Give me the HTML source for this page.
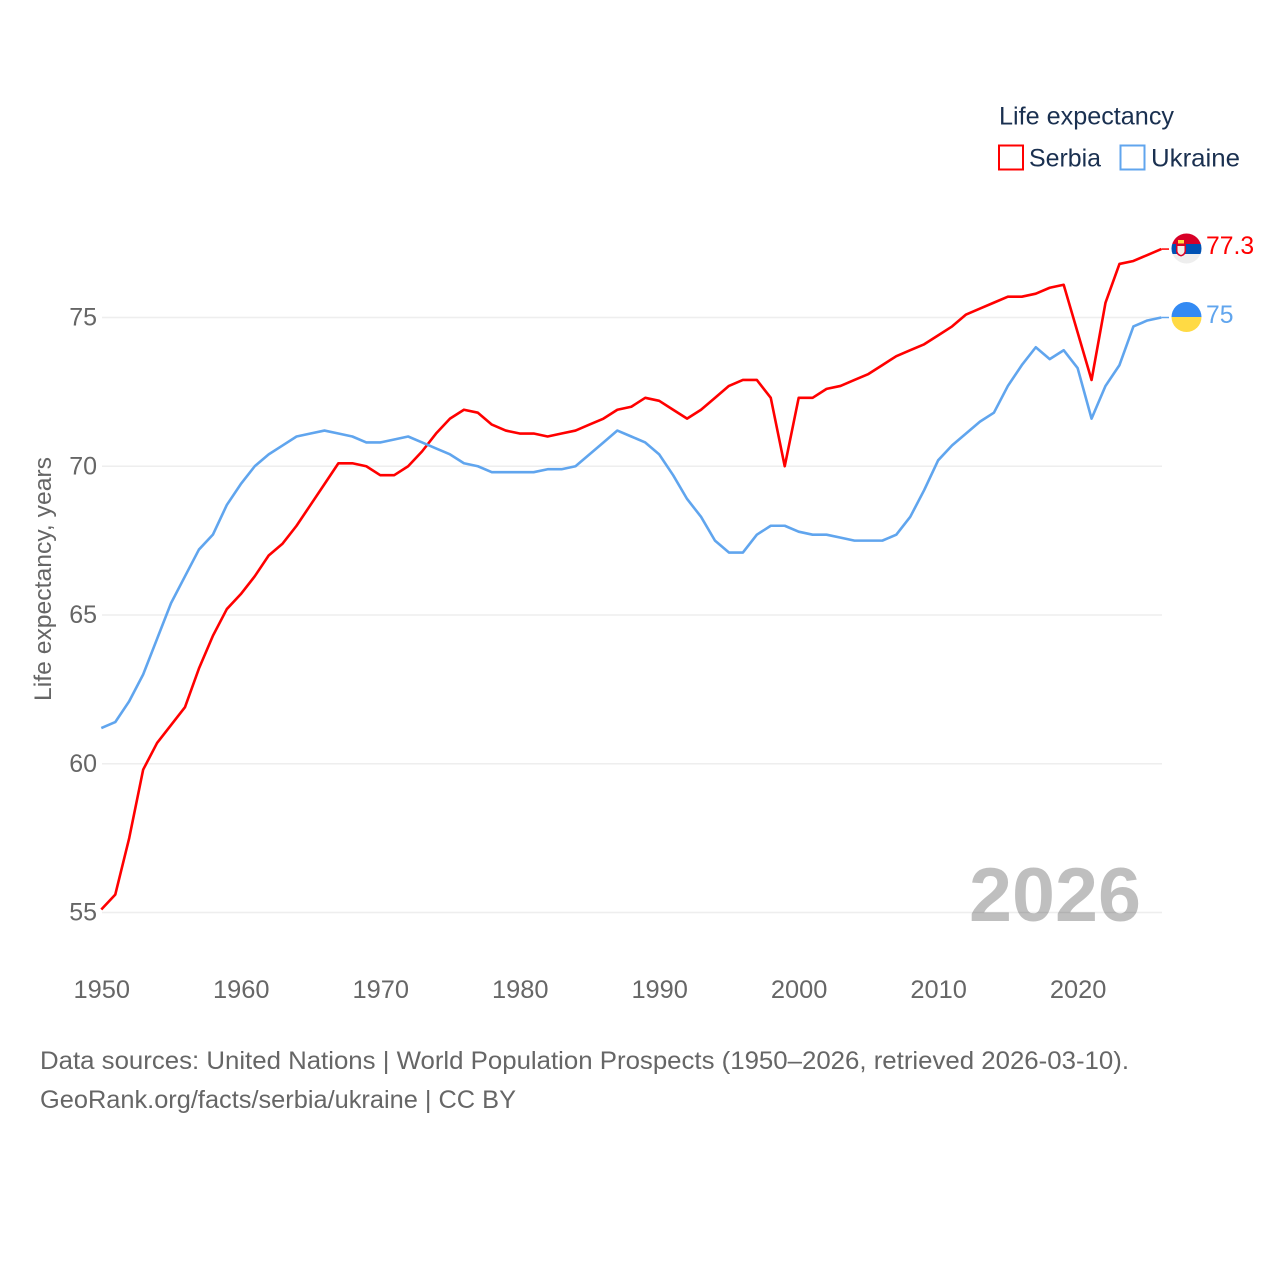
<!DOCTYPE html>
<html lang="en">
<head>
<meta charset="utf-8">
<title>Life expectancy: Serbia and Ukraine</title>
<style>
html,body{margin:0;padding:0;background:#fff;width:1280px;height:1280px;overflow:hidden}
svg{display:block;font-family:"Liberation Sans",sans-serif}
</style>
</head>
<body>
<svg id="chart" width="1280" height="1280" viewBox="0 0 1280 1280" xmlns="http://www.w3.org/2000/svg">
  <defs>
    <clipPath id="flag-clip-serbia"><circle cx="1186.5" cy="248.5" r="15"/></clipPath>
    <clipPath id="flag-clip-ukraine"><circle cx="1186.5" cy="317" r="15"/></clipPath>
  </defs>
  <g id="grid"></g>
  <text x="969" y="921" font-size="76" font-weight="700" fill="#000" fill-opacity="0.25" textLength="172" lengthAdjust="spacingAndGlyphs">2026</text>
  <g id="y-ticks"></g>
  <g id="x-ticks"></g>
  <text transform="translate(51 579) rotate(-90)" text-anchor="middle" font-size="24" fill="#666" textLength="244" lengthAdjust="spacingAndGlyphs">Life expectancy, years</text>
  <g id="series"></g>

  <g>
    <text x="999" y="124.500" font-size="25" fill="#1a3050" textLength="175" lengthAdjust="spacingAndGlyphs">Life expectancy</text>
    <g>
      <rect x="999" y="145.500" width="24" height="24" fill="none" stroke="#ff0000" stroke-width="2"/>
      <text x="1029" y="166.500" font-size="25" fill="#1a3050" textLength="72" lengthAdjust="spacingAndGlyphs">Serbia</text>
    </g>
    <g>
      <rect x="1120.500" y="145.500" width="24" height="24" fill="none" stroke="#60a5ee" stroke-width="2"/>
      <text x="1151" y="166.500" font-size="25" fill="#1a3050" textLength="89" lengthAdjust="spacingAndGlyphs">Ukraine</text>
    </g>
  </g>

  <g clip-path="url(#flag-clip-serbia)">
    <rect x="1171" y="233" width="31" height="11" fill="#d80027"/>
    <rect x="1171" y="244" width="31" height="10" fill="#0052b4"/>
    <rect x="1171" y="254" width="31" height="11" fill="#eeeeee"/>
    <path d="M1176 243h10v8q0 4-5 5.500q-5-1.500-5-5.500z" fill="#d80027"/>
    <path d="M1177.500 246h7v5q0 2.500-3.500 4q-3.500-1.500-3.500-4z" fill="#f4f0e8"/>
    <rect x="1178" y="240" width="6" height="3.500" fill="#ffda44"/>
  </g>
  <g clip-path="url(#flag-clip-ukraine)">
    <rect x="1171" y="301" width="31" height="16" fill="#338af3"/>
    <rect x="1171" y="317" width="31" height="16" fill="#ffda44"/>
  </g>

  <text x="1206" y="254" font-size="24.700" fill="#ff0000">77.3</text>
  <text x="1206" y="323" font-size="24.700" fill="#60a5ee">75</text>

  <g>
    <text x="40" y="1069" font-size="25" fill="#666" textLength="1089" lengthAdjust="spacingAndGlyphs">Data sources: United Nations | World Population Prospects (1950–2026, retrieved 2026-03-10).</text>
    <text x="40" y="1108" font-size="25" fill="#666" textLength="476" lengthAdjust="spacingAndGlyphs">GeoRank.org/facts/serbia/ukraine | CC BY</text>
  </g>
</svg>
<script>
const startYear = 1950;
const endYear = 2026;
const yTicks = [55, 60, 65, 70, 75];
const xTicks = [1950, 1960, 1970, 1980, 1990, 2000, 2010, 2020];
const serbiaValues = [
  55.1, 55.6, 57.5, 59.8, 60.7, 61.3, 61.9, 63.2, 64.3, 65.2,
  65.7, 66.3, 67.0, 67.4, 68.0, 68.7, 69.4, 70.1, 70.1, 70.0,
  69.7, 69.7, 70.0, 70.5, 71.1, 71.6, 71.9, 71.8, 71.4, 71.2,
  71.1, 71.1, 71.0, 71.1, 71.2, 71.4, 71.6, 71.9, 72.0, 72.3,
  72.2, 71.9, 71.6, 71.9, 72.3, 72.7, 72.9, 72.9, 72.3, 70.0,
  72.3, 72.3, 72.6, 72.7, 72.9, 73.1, 73.4, 73.7, 73.9, 74.1,
  74.4, 74.7, 75.1, 75.3, 75.5, 75.7, 75.7, 75.8, 76.0, 76.1,
  74.5, 72.9, 75.5, 76.8, 76.9, 77.1, 77.3
];
const ukraineValues = [
  61.2, 61.4, 62.1, 63.0, 64.2, 65.4, 66.3, 67.2, 67.7, 68.7,
  69.4, 70.0, 70.4, 70.7, 71.0, 71.1, 71.2, 71.1, 71.0, 70.8,
  70.8, 70.9, 71.0, 70.8, 70.6, 70.4, 70.1, 70.0, 69.8, 69.8,
  69.8, 69.8, 69.9, 69.9, 70.0, 70.4, 70.8, 71.2, 71.0, 70.8,
  70.4, 69.7, 68.9, 68.3, 67.5, 67.1, 67.1, 67.7, 68.0, 68.0,
  67.8, 67.7, 67.7, 67.6, 67.5, 67.5, 67.5, 67.7, 68.3, 69.2,
  70.2, 70.7, 71.1, 71.5, 71.8, 72.7, 73.4, 74.0, 73.6, 73.9,
  73.3, 71.6, 72.7, 73.4, 74.7, 74.9, 75.0
];

const NS = 'http://www.w3.org/2000/svg';
function xScale(year) { return 101.3 + (year - startYear) * (1161.3 - 101.3) / (endYear - startYear); }
function yScale(value) { return 912.5 - (value - 55) * (912.5 - 317.5) / 20; }
function make(tag) { return document.createElementNS(NS, tag); }

const gridGroup = document.getElementById('grid');
const yGroup = document.getElementById('y-ticks');
yTicks.forEach(function (t) {
  const line = make('line');
  
  
  line.setAttribute('x1', 102);
  line.setAttribute('x2', 1162);
  line.setAttribute('y1', yScale(t));
  line.setAttribute('y2', yScale(t));
  line.setAttribute('stroke', '#eeeeee');
  line.setAttribute('stroke-width', 1.5);
  gridGroup.appendChild(line);

  const label = make('text');
  
  
  label.setAttribute('x', 97);
  label.setAttribute('y', yScale(t) + 8);
  label.setAttribute('text-anchor', 'end');
  label.setAttribute('font-size', 25);
  label.setAttribute('fill', '#666');
  label.textContent = t;
  yGroup.appendChild(label);
});

const xGroup = document.getElementById('x-ticks');
xTicks.forEach(function (t) {
  const label = make('text');
  
  
  label.setAttribute('x', xScale(t) + 0.5);
  label.setAttribute('y', 998);
  label.setAttribute('text-anchor', 'middle');
  label.setAttribute('font-size', 25.4);
  label.setAttribute('fill', '#666');
  label.textContent = t;
  xGroup.appendChild(label);
});

function linePath(values) {
  return values.map(function (v, i) {
    return (i ? 'L' : 'M') + xScale(startYear + i).toFixed(2) + ' ' + yScale(v).toFixed(2);
  }).join(' ');
}
const seriesGroup = document.getElementById('series');

const serbiaLine = make('path');


serbiaLine.setAttribute('d', linePath(serbiaValues));
serbiaLine.setAttribute('fill', 'none');
serbiaLine.setAttribute('stroke', '#ff0000');
serbiaLine.setAttribute('stroke-width', 2.6);
serbiaLine.setAttribute('stroke-linejoin', 'round');
seriesGroup.appendChild(serbiaLine);

const ukraineLine = make('path');


ukraineLine.setAttribute('d', linePath(ukraineValues));
ukraineLine.setAttribute('fill', 'none');
ukraineLine.setAttribute('stroke', '#60a5ee');
ukraineLine.setAttribute('stroke-width', 2.6);
ukraineLine.setAttribute('stroke-linejoin', 'round');
seriesGroup.appendChild(ukraineLine);

const serbiaConnector = make('line');


serbiaConnector.setAttribute('x1', xScale(endYear));
serbiaConnector.setAttribute('x2', 1169);
serbiaConnector.setAttribute('y1', yScale(serbiaValues[serbiaValues.length - 1]));
serbiaConnector.setAttribute('y2', yScale(serbiaValues[serbiaValues.length - 1]));
serbiaConnector.setAttribute('stroke', '#ff0000');
serbiaConnector.setAttribute('stroke-width', 1.5);
seriesGroup.appendChild(serbiaConnector);

const ukraineConnector = make('line');


ukraineConnector.setAttribute('x1', xScale(endYear));
ukraineConnector.setAttribute('x2', 1169);
ukraineConnector.setAttribute('y1', yScale(ukraineValues[ukraineValues.length - 1]));
ukraineConnector.setAttribute('y2', yScale(ukraineValues[ukraineValues.length - 1]));
ukraineConnector.setAttribute('stroke', '#60a5ee');
ukraineConnector.setAttribute('stroke-width', 1.5);
seriesGroup.appendChild(ukraineConnector);
</script>
</body>
</html>
